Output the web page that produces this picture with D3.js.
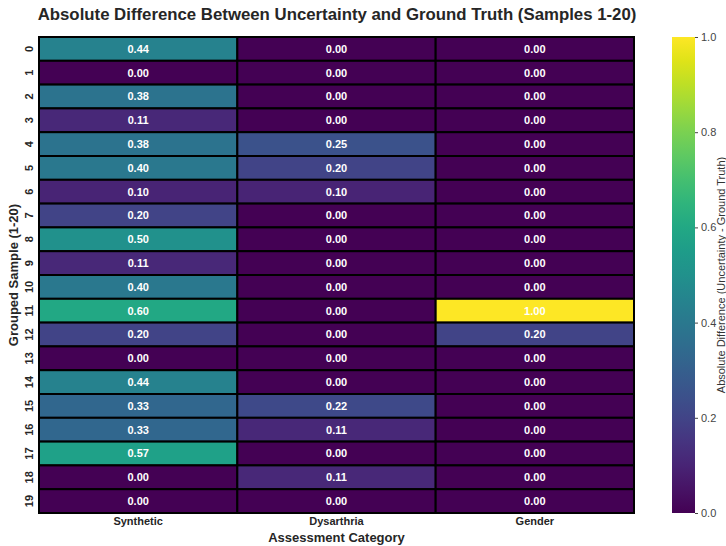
<!DOCTYPE html>
<html>
<head>
<meta charset="utf-8">
<script src="https://cdn.jsdelivr.net/npm/d3@7"></script>
<style>
  body { margin: 0; background: #fff; font-family: "Liberation Sans", Arial, sans-serif; }
</style>
</head>
<body>
<script>
// données
const categories = ["Synthetic", "Dysarthria", "Gender"]
const samples = d3.range(20).map(String)
const synthetic = [0.44, 0.00, 0.38, 0.11, 0.38, 0.40, 0.10, 0.20, 0.50, 0.11, 0.40, 0.60, 0.20, 0.00, 0.44, 0.33, 0.33, 0.57, 0.00, 0.00]
const dysarthria = [0, 0, 0, 0, 0.25, 0.20, 0.10, 0, 0, 0, 0, 0, 0, 0, 0, 0.22, 0.11, 0, 0.11, 0]
const gender = [0, 0, 0, 0, 0, 0, 0, 0, 0, 0, 0, 1.00, 0.20, 0, 0, 0, 0, 0, 0, 0]
const cbTicks = [0.0, 0.2, 0.4, 0.6, 0.8, 1.0]

const series = [synthetic, dysarthria, gender]
const cells = []
series.forEach((vals, c) => vals.forEach((v, r) => cells.push({ cat: categories[c], row: samples[r], v })))

const W = 726, H = 546
const m = { left: 39, right: 634, top: 37, bottom: 513 }

const svg = d3.select("body").append("svg")
    .attr("width", W)
    .attr("height", H)

const x = d3.scaleBand().domain(categories).range([m.left, m.right])
const y = d3.scaleBand().domain(samples).range([m.top, m.bottom])
const color = d3.scaleSequential(d3.interpolateViridis).domain([0, 1])

// cellules
svg.append("g").selectAll("rect")
    .data(cells)
    .enter()
    .append("rect")
    .attr("x", d => x(d.cat))
    .attr("y", d => y(d.row))
    .attr("width", x.bandwidth())
    .attr("height", y.bandwidth())
    .attr("fill", d => color(d.v))
    .attr("stroke", "#000")
    .attr("stroke-width", 2)

svg.append("g").selectAll("text")
    .data(cells)
    .enter()
    .append("text")
    .text(d => d.v.toFixed(2))
    .attr("x", d => x(d.cat) + x.bandwidth() / 2)
    .attr("y", d => y(d.row) + y.bandwidth() / 2)
    .attr("dy", "0.35em")
    .attr("text-anchor", "middle")
    .attr("fill", "#fff")
    .attr("font-size", 11)
    .attr("font-weight", "bold")

// axes
const xAxis = svg.append("g")
    .attr("transform", `translate(0,${m.bottom})`)
    .call(d3.axisBottom(x).tickSize(0).tickPadding(4))
xAxis.select(".domain").remove()
xAxis.selectAll("text").attr("font-size", 11).attr("font-weight", "bold").attr("fill", "#262626")
    .attr("font-family", "Liberation Sans, Arial, sans-serif")

const yAxis = svg.append("g")
    .attr("transform", `translate(${m.left},0)`)
    .call(d3.axisLeft(y).tickSize(0).tickPadding(0))
yAxis.select(".domain").remove()
yAxis.selectAll("text")
    .attr("font-size", 11).attr("font-weight", "bold").attr("fill", "#262626")
    .attr("font-family", "Liberation Sans, Arial, sans-serif")
    .attr("text-anchor", "middle")
    .attr("x", 0)
    .attr("transform", "translate(-10,0) rotate(-90)")
    .attr("dy", "0.35em")

svg.append("text")
    .text("Absolute Difference Between Uncertainty and Ground Truth (Samples 1-20)")
    .attr("x", 337)
    .attr("y", 20)
    .attr("text-anchor", "middle")
    .attr("font-size", 16.8)
    .attr("font-weight", "bold")
    .attr("fill", "#262626")

svg.append("text")
    .text("Assessment Category")
    .attr("x", (m.left + m.right) / 2)
    .attr("y", 542)
    .attr("text-anchor", "middle")
    .attr("font-size", 13)
    .attr("font-weight", "bold")
    .attr("fill", "#262626")

svg.append("text")
    .text("Grouped Sample (1-20)")
    .attr("transform", `translate(18,${(m.top + m.bottom) / 2}) rotate(-90)`)
    .attr("text-anchor", "middle")
    .attr("font-size", 13)
    .attr("font-weight", "bold")
    .attr("fill", "#262626")

// barre de couleur
const cbX = 672, cbW = 23
const cbScale = d3.scaleLinear().domain([0, 1]).range([m.bottom, m.top])
const defs = svg.append("defs")
const grad = defs.append("linearGradient").attr("id", "viridis")
    .attr("x1", 0).attr("y1", 1).attr("x2", 0).attr("y2", 0)
d3.range(0, 1.0001, 0.05).forEach(t => {
    grad.append("stop").attr("offset", t).attr("stop-color", color(t))
})
svg.append("rect")
    .attr("x", cbX)
    .attr("y", m.top)
    .attr("width", cbW)
    .attr("height", m.bottom - m.top)
    .attr("fill", "url(#viridis)")

const cbAxis = svg.append("g")
    .attr("transform", `translate(${cbX + cbW},0)`)
    .call(d3.axisRight(cbScale).tickValues(cbTicks).tickFormat(d3.format(".1f")).tickSize(3).tickPadding(3))
cbAxis.select(".domain").remove()
cbAxis.selectAll("line").attr("stroke", "#444")
cbAxis.selectAll("text").attr("font-size", 11).attr("fill", "#444")
    .attr("font-family", "Liberation Sans, Arial, sans-serif")

svg.append("text")
    .text("Absolute Difference (Uncertainty - Ground Truth)")
    .attr("transform", `translate(725,${(m.top + m.bottom) / 2}) rotate(-90)`)
    .attr("text-anchor", "middle")
    .attr("font-size", 11)
    .attr("fill", "#333")
</script>
</body>
</html>
